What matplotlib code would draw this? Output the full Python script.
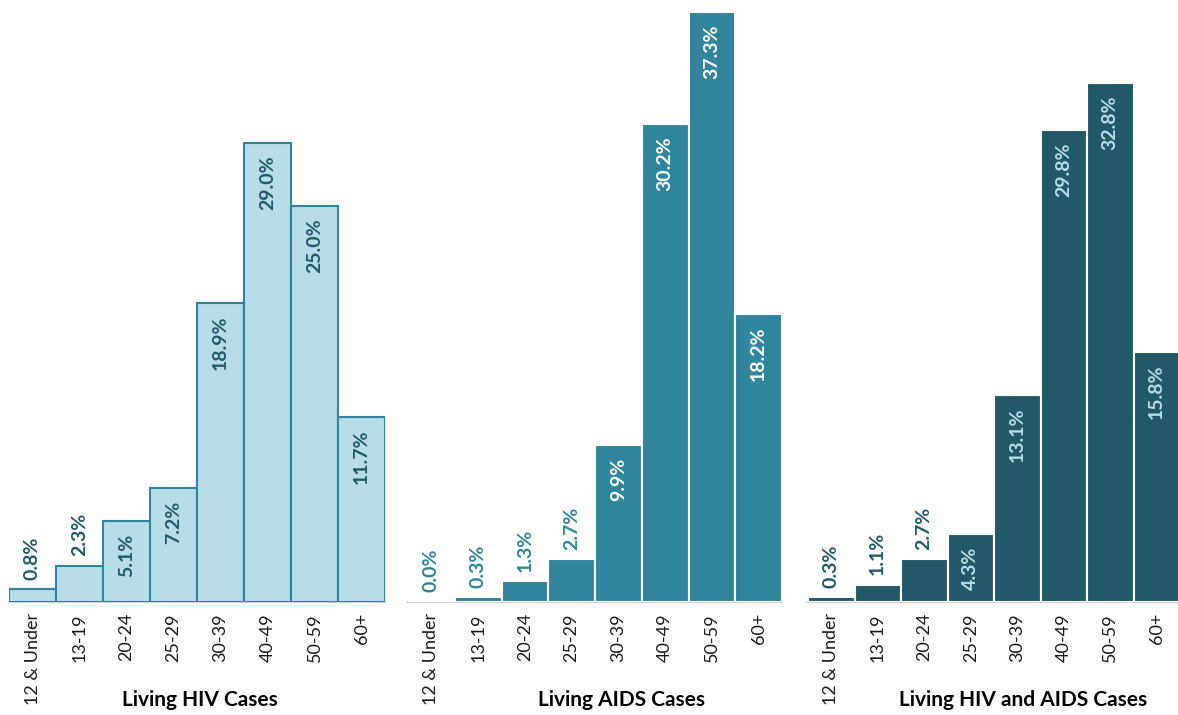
import matplotlib
matplotlib.use("Agg")
import matplotlib.pyplot as plt

plt.rcParams['font.family'] = ['Lato', 'DejaVu Sans']

age_groups = ["12 & Under", "13-19", "20-24", "25-29", "30-39", "40-49", "50-59", "60+"]
hiv_cases = [0.8, 2.3, 5.1, 7.2, 18.9, 29.0, 25.0, 11.7]
aids_cases = [0.0, 0.3, 1.3, 2.7, 9.9, 30.2, 37.3, 18.2]
hiv_aids_cases = [0.3, 1.1, 2.7, 4.3, 13.1, 29.8, 32.8, 15.8]

titles = ["Living HIV Cases", "Living AIDS Cases", "Living HIV and AIDS Cases"]

W, H = 1178, 715
fig = plt.figure(figsize=(W / 100, H / 100), dpi=100)

base = 602
ymax = base / 15.83

# panel pixel extents (left, right) of the bar area, title centre x
panels = [
    (hiv_cases, 9, 385, 200, "#b7dde8", "#31849b", "#215968", "#215968", 3.0),
    (aids_cases, 408, 782, 622, "#31859c", "white", "#31859c", "white", 5.0),
    (hiv_aids_cases, 808, 1180, 1023, "#215968", "white", "#215968", "#b7dde8", 4.0),
]

for i, (vals, x0, x1, tx, fill, edge, out_col, in_col, thresh) in enumerate(panels):
    ax = fig.add_axes([x0 / W, (H - base) / H, (x1 - x0) / W, base / H])
    x = list(range(len(age_groups)))
    ax.bar(x, vals, width=1.0, color=fill, edgecolor=edge, linewidth=1.5, zorder=2)
    ax.set_xlim(-0.5, len(age_groups) - 0.5)
    ax.set_ylim(0, ymax)
    ax.axhline(0, color="#d0d0d0", linewidth=1.5, zorder=1, clip_on=False)
    for s in ax.spines.values():
        s.set_visible(False)
    ax.set_yticks([])
    ax.set_xticks(x)
    ax.set_xticklabels(age_groups, rotation=90, fontsize=13, color="#1a1a1a")
    ax.tick_params(axis="x", length=0, pad=8)
    for xi, v in zip(x, vals):
        if v >= thresh:
            ax.annotate(f"{v:.1f}%", (xi, v), xytext=(0, -9), textcoords="offset points",
                        rotation=90, ha="center", va="top", fontsize=14,
                        fontweight="bold", color=in_col)
        else:
            ax.annotate(f"{v:.1f}%", (xi, v), xytext=(0, 7), textcoords="offset points",
                        rotation=90, ha="center", va="bottom", fontsize=14,
                        fontweight="bold", color=out_col)
    fig.text(tx / W, 15 / H, titles[i], ha="center", va="center",
             fontsize=15, fontweight="bold", color="black")

fig.savefig("out.png", dpi=100, facecolor="white")
